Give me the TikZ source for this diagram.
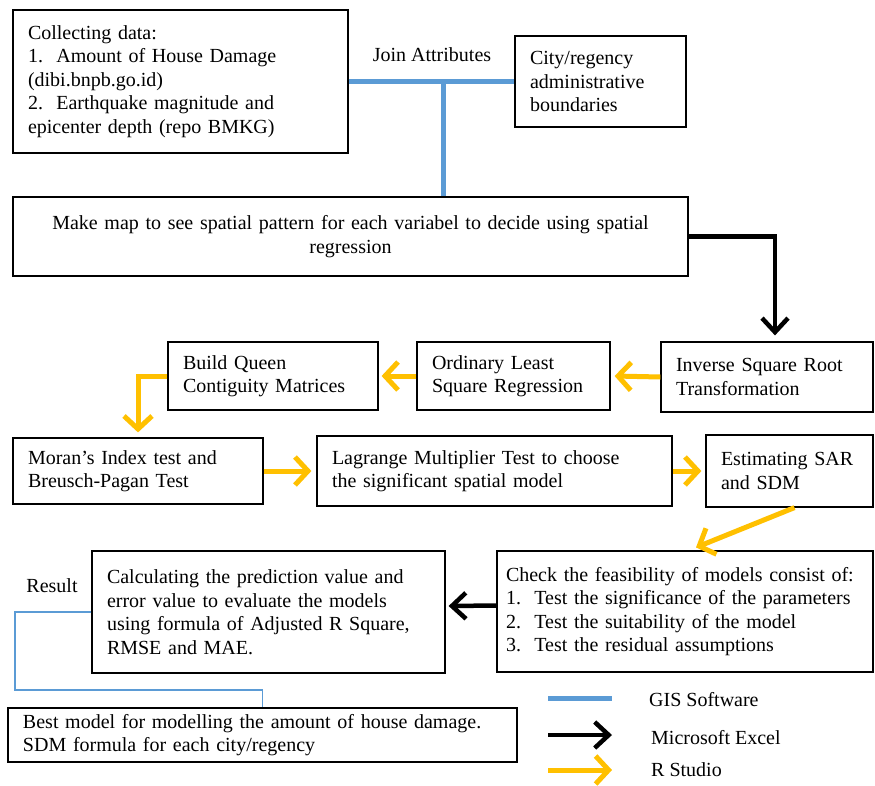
\documentclass[tikz,border=0pt]{standalone}
\usepackage{fontspec}
\setmainfont{Liberation Serif}
\usetikzlibrary{arrows.meta}
\definecolor{gisblue}{HTML}{5B9BD5}
\definecolor{ryellow}{HTML}{FFC000}

\begin{document}
\begin{tikzpicture}[x=1pt,y=-1pt,
    box/.style={draw,line width=1.2pt,align=left,inner xsep=15pt,inner ysep=2pt,
      font=\fontsize{20}{23.5}\selectfont},
    lab/.style={font=\fontsize{20}{23.5}\selectfont,inner sep=1pt},
    gis/.style={gisblue,line width=5pt},
    excel/.style={black,line width=4.5pt,-{Straight Barb[length=14pt,width=26pt]}},
    rstudio/.style={ryellow,line width=5pt,-{Straight Barb[length=13pt,width=28pt]}}]
  \useasboundingbox (0,0) rectangle (875,785);
  % top row
  \node[box,text width=305pt,minimum height=143pt] (collect) at (180.5,81.5)
    {Collecting data:\\1.\ \ Amount of House Damage\\(dibi.bnpb.go.id)\\2.\ \ Earthquake magnitude and\\epicenter depth (repo BMKG)};
  \node[box,text width=141pt,minimum height=91pt] (city) at (600.5,81.5)
    {City/regency\\administrative\\boundaries};
  \node[lab] (join) at (432,55) {Join Attributes};
  \node[box,align=center,text width=645pt,minimum height=79pt] (map) at (350.5,236.5)
    {Make map to see spatial pattern for each variabel to decide using spatial\\regression};
  % second row
  \node[box,text width=180pt,minimum height=68pt] (queen) at (273,376)
    {Build Queen\\Contiguity Matrices};
  \node[box,text width=163pt,minimum height=68pt] (ols) at (513.5,376)
    {Ordinary Least\\Square Regression};
  \node[box,text width=182pt,minimum height=70pt] (inverse) at (767,377)
    {Inverse Square Root\\Transformation};
  % third row
  \node[box,text width=220pt,minimum height=66pt] (moran) at (138,471)
    {Moran’s Index test and\\Breusch-Pagan Test};
  \node[box,text width=325pt,minimum height=70pt] (lagrange) at (494.5,471)
    {Lagrange Multiplier Test to choose\\the significant spatial model};
  \node[box,text width=137pt,minimum height=72pt] (estim) at (789.5,471)
    {Estimating SAR\\and SDM};
  % fourth row
  \node[box,text width=323pt,minimum height=122pt] (calc) at (268.5,612)
    {Calculating the prediction value and\\error value to evaluate the models\\using formula of Adjusted R Square,\\RMSE and MAE.};
  \node[box,inner xsep=9pt,text width=358pt,minimum height=121pt] (check) at (685,611.5)
    {Check the feasibility of models consist of:\\1.\ \ Test the significance of the parameters\\2.\ \ Test the suitability of the model\\3.\ \ Test the residual assumptions};
  \node[lab] (result) at (52,586) {Result};
  \node[box,text width=479pt,minimum height=54pt] (best) at (262.5,735)
    {Best model for modelling the amount of house damage.\\SDM formula for each city/regency};
  % connectors
  \coordinate (j) at (443,81.5);
  \draw[gis] (collect.east) -- (city.west);
  \draw[gis] (j) -- (j |- map.north);
  \draw[excel] (map.east) -| ([xshift=8pt,yshift=6pt]inverse.north);
  \draw[rstudio] (inverse.west) -- ([xshift=4pt]ols.east);
  \draw[rstudio] (ols.west) -- ([xshift=3pt]queen.east);
  \draw[rstudio] (queen.west) -| ([yshift=5pt]moran.north);
  \draw[rstudio] (moran.east) -- ([xshift=-5pt]lagrange.west);
  \draw[rstudio] (lagrange.east) -- ([xshift=-4pt]estim.west);
  \draw[rstudio] ([xshift=5pt]estim.south) -- ([xshift=11pt,yshift=3pt]check.north);
  \draw[excel] ([yshift=6pt]check.west) -- ([xshift=3pt,yshift=6pt]calc.east);
  \coordinate (r1) at (15,690);
  \draw[gisblue,line width=1.2pt] (calc.west) -| (r1) -| (best.north);
  % legend
  \coordinate (g1) at (548,698); \coordinate (g2) at (612,698);
  \coordinate (e1) at (548,735); \coordinate (e2) at (612,735);
  \coordinate (s1) at (548,770); \coordinate (s2) at (612,770);
  \draw[gis] (g1) -- (g2);
  \draw[excel] (e1) -- (e2);
  \draw[rstudio] (s1) -- (s2);
  \node[lab,anchor=west] (lgis) at (648,700) {GIS Software};
  \node[lab,anchor=west] (lexcel) at (650,738) {Microsoft Excel};
  \node[lab,anchor=west] (lr) at (650,770) {R Studio};
\end{tikzpicture}
\end{document}
